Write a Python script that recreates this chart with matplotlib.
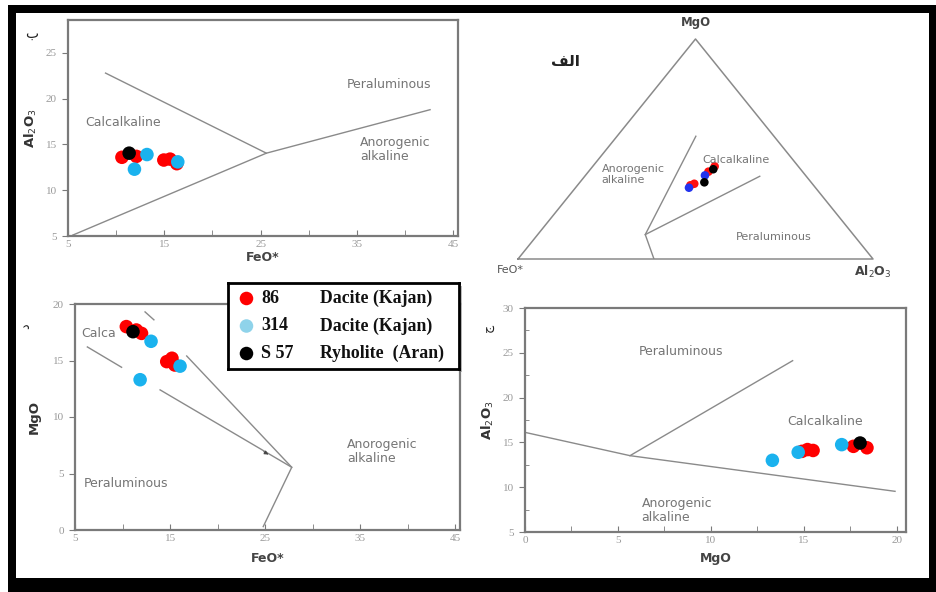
import numpy as np
import matplotlib
matplotlib.use("Agg")
import matplotlib.pyplot as plt
from matplotlib.patches import Rectangle

W, H = 936, 592

# --- data ---------------------------------------------------------------
colors = {"86": "#ff0000", "314": "#1ab2ee", "S57": "#000000"}

# panel b: FeO* vs Al2O3
b_fe_86 = [10.6, 12.1, 14.95, 15.6, 16.3]
b_al_86 = [13.6, 13.7, 13.3, 13.4, 12.9]
b_fe_314 = [13.2, 11.9, 16.4]
b_al_314 = [13.9, 12.3, 13.1]
b_fe_s57 = [11.35]
b_al_s57 = [14.05]
b_line1_x = [8.9, 25.6]
b_line1_y = [22.8, 14.05]
b_line2_x = [5.5, 25.6, 42.6]
b_line2_y = [5.1, 14.05, 18.8]

# panel d: FeO* vs MgO
d_fe_86 = [10.4, 11.45, 12.0, 14.65, 15.2, 15.5]
d_mg_86 = [18.0, 17.7, 17.4, 14.9, 15.2, 14.6]
d_fe_314 = [13.0, 11.85, 16.05]
d_mg_314 = [16.7, 13.3, 14.5]
d_fe_s57 = [11.1]
d_mg_s57 = [17.55]
d_seg1_x = [12.37, 13.3]
d_seg1_y = [19.3, 18.6]
d_seg2_x = [6.3, 9.9]
d_seg2_y = [16.2, 14.4]
d_seg3_x = [13.95, 27.8]
d_seg3_y = [12.4, 5.55]
d_seg4_x = [16.75, 27.8, 24.8]
d_seg4_y = [15.4, 5.55, 0.3]

# panel c: MgO vs Al2O3
c_mg_86 = [14.9, 15.2, 15.5, 17.67, 18.4]
c_al_86 = [14.0, 14.2, 14.1, 14.56, 14.4]
c_mg_314 = [13.31, 14.7, 17.04]
c_al_314 = [13.0, 13.9, 14.75]
c_mg_s57 = [18.03]
c_al_s57 = [14.93]
c_line1_x = [0.0, 5.65, 19.91]
c_line1_y = [16.12, 13.52, 9.54]
c_line2_x = [5.65, 14.4]
c_line2_y = [13.52, 24.12]

# panel a: ternary FeO* - MgO - Al2O3 (percent)
t_86 = {"mg": [33.5, 34.2, 39.7, 42.1], "al": [31.8, 32.55, 33.8, 34.35]}
t_314 = {"mg": [32.4, 38.0], "al": [31.96, 33.66]}
t_s57 = {"mg": [40.8, 34.85], "al": [34.6, 35.07]}
t_lineA = {"mg": [55.8, 11.1, 0.0], "al": [22.2, 30.3, 38.3]}
t_lineB = {"mg": [11.1, 37.6], "al": [30.3, 49.3]}

legend_nums = ["86", "314", "S 57"]
legend_names = ["Dacite (Kajan)", "Dacite (Kajan)", "Ryholite  (Aran)"]
legend_cols = ["#ff0000", "#8fd3ea", "#000000"]


def box(x0, y0, x1, y1):
    return [x0 / W, 1 - y1 / H, (x1 - x0) / W, (y1 - y0) / H]


def tern(mg, al):
    mg = np.asarray(mg) / 100.0
    al = np.asarray(al) / 100.0
    return al + mg / 2, mg


GRAY = "#7a7a7a"
LINE = "#8a8a8a"
LAB = "#757575"
SERIF = "Liberation Serif"


def style(ax, xt, yt, xlim, ylim, xminor, yminor):
    ax.set_xlim(*xlim)
    ax.set_ylim(*ylim)
    for s in ax.spines.values():
        s.set_color(GRAY)
        s.set_linewidth(1.6)
    ax.set_xticks(xminor, minor=True)
    ax.set_xticks(xt)
    ax.set_yticks(yt)
    ax.set_yticks(yminor, minor=True)
    ax.tick_params(axis="x", which="both", direction="in", length=4, color=GRAY,
                   top=False, labelsize=8, labelcolor="#999999", pad=3)
    ax.tick_params(axis="y", which="major", direction="out", length=4, color=GRAY,
                   right=False, labelsize=8, labelcolor="#999999", pad=4)
    ax.tick_params(axis="y", which="minor", direction="in", length=3, color=GRAY)
    for lab in ax.get_xticklabels() + ax.get_yticklabels():
        lab.set_fontfamily(SERIF)


def dots(ax, x, y, c, s=95, z=3):
    ax.scatter(x, y, s=s, c=c, edgecolors="none", zorder=z, clip_on=False)


fig = plt.figure(figsize=(W / 100, H / 100), dpi=100)
fig.patch.set_facecolor("white")

# frame
fig.add_artist(Rectangle((8 / W, 0), (W - 8) / W, (H - 5) / H,
                         transform=fig.transFigure, facecolor="black", edgecolor="none", zorder=-10))
fig.add_artist(Rectangle((16 / W, (H - 578) / H), (929 - 16) / W, (578 - 13) / H,
                         transform=fig.transFigure, facecolor="white", edgecolor="none", zorder=-9))

# --- panel b -----------------------------------------------------------
ax = fig.add_axes(box(68, 20, 458, 236))
style(ax, [5, 15, 25, 35, 45], [5, 10, 15, 20, 25], (5, 45.5), (5, 28.6),
      np.arange(5, 46, 5), [])
ax.plot(b_line1_x, b_line1_y, color=LINE, lw=1)
ax.plot(b_line2_x, b_line2_y, color=LINE, lw=1)
dots(ax, b_fe_86, b_al_86, colors["86"])
dots(ax, b_fe_314, b_al_314, colors["314"], z=4)
dots(ax, b_fe_s57, b_al_s57, colors["S57"], z=5)
ax.text(38.3, 21.5, "Peraluminous", ha="center", va="center", color=LAB, fontsize=9)
ax.text(10.7, 17.45, "Calcalkaline", ha="center", va="center", color=LAB, fontsize=9)
ax.text(35.3, 14.4, "Anorogenic\nalkaline", ha="left", va="center", color=LAB,
        fontsize=9, linespacing=1.1)
ax.set_xlabel("FeO*", fontsize=9, fontweight="bold", color="#444444", labelpad=1)
ax.set_ylabel("Al$_2$O$_3$", fontsize=9.5, fontweight="bold", color="#333333", labelpad=5)
fig.text(32 / W, 1 - 34 / H, "ب", fontsize=10, fontfamily="DejaVu Sans",
         ha="center", va="center", color="#222222")

# --- panel a (ternary) ----------------------------------------------------
ta = fig.add_axes(box(518, 39, 873, 259))
ta.set_xlim(0, 1)
ta.set_ylim(0, 1)
ta.axis("off")
ta.plot([0, 1, 0.5, 0], [0, 0, 1, 0], color=LINE, lw=1.1, clip_on=False)
for ln in (t_lineA, t_lineB):
    u, v = tern(ln["mg"], ln["al"])
    ta.plot(u, v, color=LINE, lw=1)
for d, c in ((t_86, "#ff1010"), (t_314, "#2233ee"), (t_s57, "#000000")):
    u, v = tern(d["mg"], d["al"])
    ta.scatter(u, v, s=38, c=c, edgecolors="none", zorder=3)
ta.text(0.5, 1.045, "MgO", ha="center", va="bottom", fontsize=8.5, fontweight="bold", color="#444444")
ta.text(-0.06, -0.05, "FeO*", ha="left", va="center", fontsize=8, color="#555555")
ta.text(1.0, -0.06, "Al$_2$O$_3$", ha="center", va="center", fontsize=9, fontweight="bold", color="#444444")
ta.text(0.235, 0.385, "Anorogenic\nalkaline", ha="left", va="center", fontsize=8, color=LAB, linespacing=1.1)
ta.text(0.52, 0.45, "Calcalkaline", ha="left", va="center", fontsize=8, color=LAB)
ta.text(0.615, 0.1, "Peraluminous", ha="left", va="center", fontsize=8, color=LAB)
fig.text(565 / W, 1 - 61 / H, "\ufed2\ufedf\ufe8d", fontsize=11, fontfamily="DejaVu Sans",
         fontweight="bold", ha="center", va="center", color="#222222")

# --- panel d -----------------------------------------------------------
ax = fig.add_axes(box(75, 304, 460, 530))
style(ax, [5, 15, 25, 35, 45], [0, 5, 10, 15, 20], (5, 45.5), (0, 20),
      np.arange(5, 46, 5), [])
for sx, sy in ((d_seg1_x, d_seg1_y), (d_seg2_x, d_seg2_y), (d_seg3_x, d_seg3_y), (d_seg4_x, d_seg4_y)):
    ax.plot(sx, sy, color=LINE, lw=1)
ax.annotate("", xy=(25.6, 6.55), xytext=(24.6, 7.05),
            arrowprops=dict(arrowstyle="-|>", color="#444444", lw=0.6, mutation_scale=6))
dots(ax, d_fe_86, d_mg_86, colors["86"])
dots(ax, d_fe_314, d_mg_314, colors["314"], z=4)
dots(ax, d_fe_s57, d_mg_s57, colors["S57"], z=5)
ax.text(5.7, 17.4, "Calca", ha="left", va="center", color=LAB, fontsize=9)
ax.text(5.9, 4.1, "Peraluminous", ha="left", va="center", color=LAB, fontsize=9)
ax.text(33.6, 6.95, "Anorogenic\nalkaline", ha="left", va="center", color=LAB,
        fontsize=9, linespacing=1.1)
ax.set_xlabel("FeO*", fontsize=9, fontweight="bold", color="#444444", labelpad=6)
ax.set_ylabel("MgO", fontsize=9.5, fontweight="bold", color="#333333", labelpad=9)
fig.text(26 / W, 1 - 326 / H, "د", fontsize=9, fontfamily="DejaVu Sans",
         ha="center", va="center", color="#222222", rotation=90)

# --- panel c -----------------------------------------------------------
ax = fig.add_axes(box(525, 308, 906, 532))
style(ax, [0, 5, 10, 15, 20], [5, 10, 15, 20, 25, 30], (0, 20.5), (5, 30),
      np.arange(0, 20.5, 2.5), np.arange(7.5, 30, 5))
ax.plot(c_line1_x, c_line1_y, color=LINE, lw=1)
ax.plot(c_line2_x, c_line2_y, color=LINE, lw=1)
dots(ax, c_mg_86, c_al_86, colors["86"])
dots(ax, c_mg_314, c_al_314, colors["314"], z=4)
dots(ax, c_mg_s57, c_al_s57, colors["S57"], z=5)
ax.text(6.1, 25.1, "Peraluminous", ha="left", va="center", color=LAB, fontsize=9)
ax.text(14.1, 17.35, "Calcalkaline", ha="left", va="center", color=LAB, fontsize=9)
ax.text(6.28, 7.4, "Anorogenic\nalkaline", ha="left", va="center", color=LAB,
        fontsize=9, linespacing=1.1)
ax.set_xlabel("MgO", fontsize=9, fontweight="bold", color="#444444", labelpad=5)
ax.set_ylabel("Al$_2$O$_3$", fontsize=9.5, fontweight="bold", color="#333333", labelpad=5)
fig.text(488 / W, 1 - 328 / H, "ج", fontsize=9, fontfamily="DejaVu Sans",
         ha="center", va="center", color="#222222", rotation=90)

# --- legend box --------------------------------------------------------
lg = fig.add_axes(box(228, 283, 459, 369))
lg.set_xlim(0, 1)
lg.set_ylim(0, 1)
lg.set_xticks([])
lg.set_yticks([])
for s in lg.spines.values():
    s.set_linewidth(2)
    s.set_color("black")
fig.add_artist(Rectangle((231 / W, 1 - 372 / H), (459 - 228) / W, (369 - 283) / H,
                         transform=fig.transFigure, facecolor="#bbbbbb", edgecolor="none", zorder=-1))
lg.set_zorder(10)
ys = [0.82, 0.5, 0.18]
for yv, num, name, c in zip(ys, legend_nums, legend_names, legend_cols):
    lg.scatter([0.08], [yv], s=95, c=c, edgecolors="none")
    lg.text(0.145, yv, num, ha="left", va="center", fontsize=13, fontweight="bold",
            fontfamily=SERIF, color="#111111")
    lg.text(0.4, yv, name, ha="left", va="center", fontsize=12.8, fontweight="bold",
            fontfamily=SERIF, color="#111111")

fig.savefig("out.png", dpi=100)
